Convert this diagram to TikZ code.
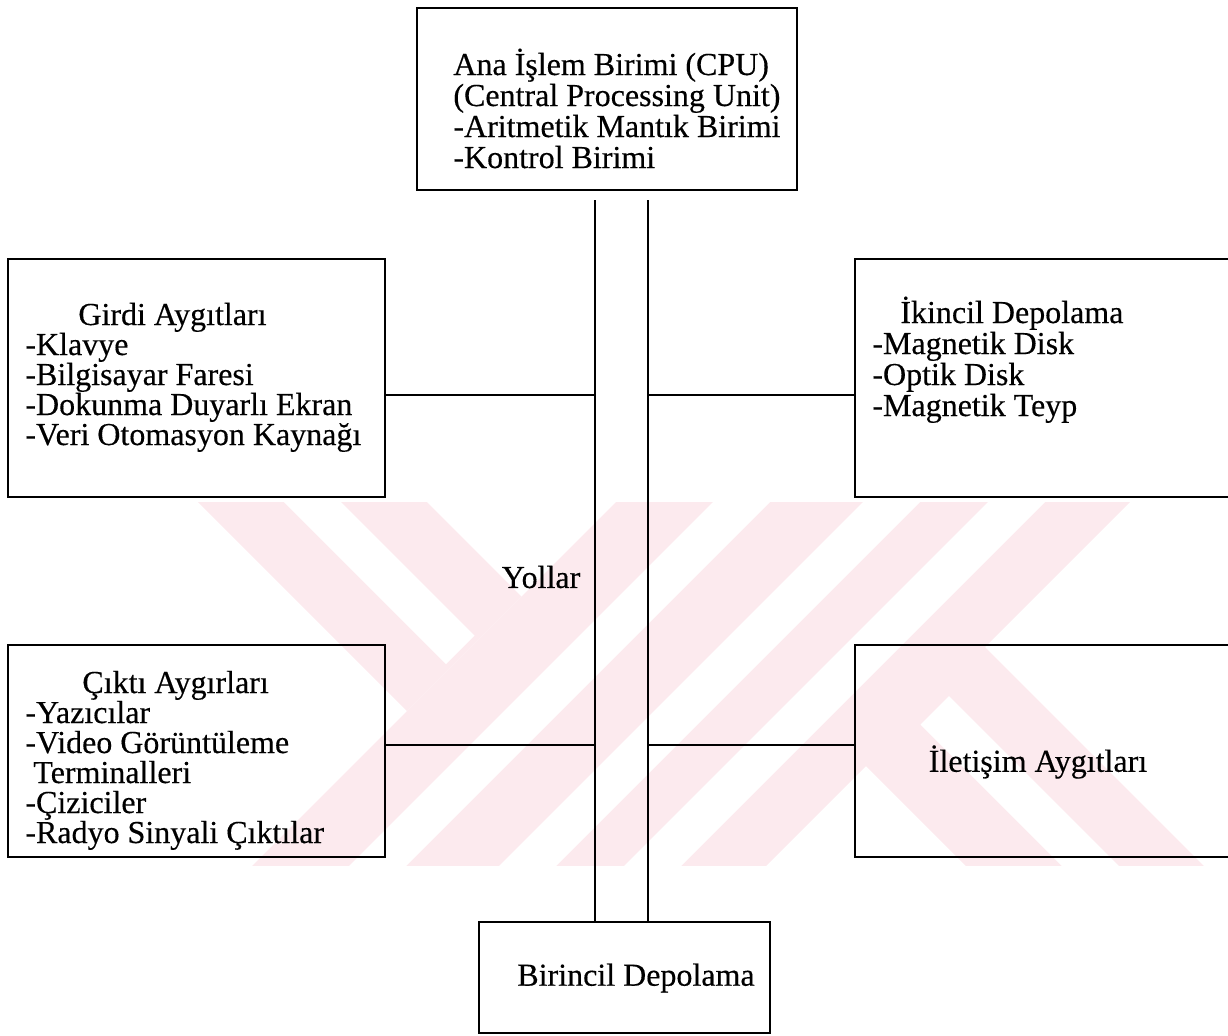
\documentclass[tikz,border=0pt]{standalone}
\usepackage{fontspec}
\setmainfont{Liberation Serif}
\newfontfamily\inkfont{Liberation Serif}[FakeBold=0.35]
% a block of left-aligned lines; the block's baseline is that of its first line
\newcommand{\linestack}[2][15.5pt]{\vtop{\baselineskip=#1\relax\lineskiplimit=-\maxdimen #2}}
\begin{document}
\begin{tikzpicture}[x=0.5pt,y=-0.5pt,
  box/.style={draw=black, line width=1.3pt, rectangle, inner sep=0pt},
  wire/.style={line width=1.3pt},
  txt/.style={inner sep=0pt, font=\inkfont\fontsize{16pt}{15.5pt}\selectfont},
  wm/.style={fill={rgb,255:red,252;green,234;blue,238}},
  ]
\useasboundingbox (0,0) rectangle (1228,1035);
\clip (0,0) rectangle (1228,1035);

% faint striped emblem in the background
\begin{scope}
  \clip (0,502) rectangle (1228,865);
  \fill[wm] (176,480) -- (405,480) -- (521.5,596.5) -- (407,711) -- cycle;
  \fill[wm] (638,480) -- (1152,480) -- (742,890) -- (228,890) -- cycle;
  \fill[wm] (850,750) -- (969,631) -- (1228,890) -- (990,890) -- cycle;
  \fill[white] (262,480) -- (319,480) -- (474.5,635.5) -- (446,664) -- cycle;
  \fill[white] (735,480) -- (792,480) -- (382,890) -- (325,890) -- cycle;
  \fill[white] (885,480) -- (942,480) -- (532,890) -- (475,890) -- cycle;
  \fill[white] (1010,480) -- (1067,480) -- (657,890) -- (600,890) -- cycle;
  \fill[white] (920.5,724.5) -- (949,696) -- (1143,890) -- (1086,890) -- cycle;
\end{scope}

% boxes
\node[box, minimum width=190pt, minimum height=91pt] (cpu) at (607,99) {};
\node[box, minimum width=188.5pt, minimum height=119pt] (girdi) at (196.5,378) {};
\node[box, minimum width=197.5pt, minimum height=119pt] (ikincil) at (1052.5,378) {};
\node[box, minimum width=188.5pt, minimum height=106pt] (cikti) at (196.5,751) {};
\node[box, minimum width=197.5pt, minimum height=106pt] (iletisim) at (1052.5,751) {};
\node[box, minimum width=145.5pt, minimum height=55.5pt] (birincil) at (624.5,977.5) {};

% box texts
\node[txt, anchor=base west] (cpu-text) at (453,75) {\linestack{%
  \hbox{Ana İşlem Birimi (CPU)}\hbox{(Central Processing Unit)}%
  \hbox{-Aritmetik Mantık Birimi}\hbox{-Kontrol Birimi}}};
\node[txt, anchor=base west] (girdi-text) at (25,325) {\linestack[15pt]{%
  \hbox{\kern26.5pt Girdi Aygıtları}\hbox{-Klavye}\hbox{-Bilgisayar Faresi}%
  \hbox{-Dokunma Duyarlı Ekran}\hbox{-Veri Otomasyon Kaynağı}}};
\node[txt, anchor=base west] (ikincil-text) at (872,323) {\linestack[15.5pt]{%
  \hbox{\kern14pt İkincil Depolama}\hbox{-Magnetik Disk}\hbox{-Optik Disk}%
  \hbox{-Magnetik Teyp}}};
\node[txt, anchor=base west] (cikti-text) at (25,693) {\linestack[15pt]{%
  \hbox{\kern28.5pt Çıktı Aygırları}\hbox{-Yazıcılar}\hbox{-Video Görüntüleme}%
  \hbox{\kern4pt Terminalleri}\hbox{-Çiziciler}\hbox{-Radyo Sinyali Çıktılar}}};
\node[txt] (iletisim-text) at (1038,762) {İletişim Aygıtları};
\node[txt] (birincil-text) at (636,978) {Birincil Depolama};
\node[txt] (yollar) at (541,577) {Yollar};

% bus lines and taps
\coordinate (busL) at (595,200);
\coordinate (busR) at (648,200);
\coordinate (tapA) at (0,395);
\coordinate (tapB) at (0,745);
\draw[wire] (busL) -- (busL |- birincil.north);
\draw[wire] (busR) -- (busR |- birincil.north);
\draw[wire] (girdi.east |- tapA) -- (busL |- tapA);
\draw[wire] (busR |- tapA) -- (ikincil.west |- tapA);
\draw[wire] (cikti.east |- tapB) -- (busL |- tapB);
\draw[wire] (busR |- tapB) -- (iletisim.west |- tapB);
\end{tikzpicture}
\end{document}
